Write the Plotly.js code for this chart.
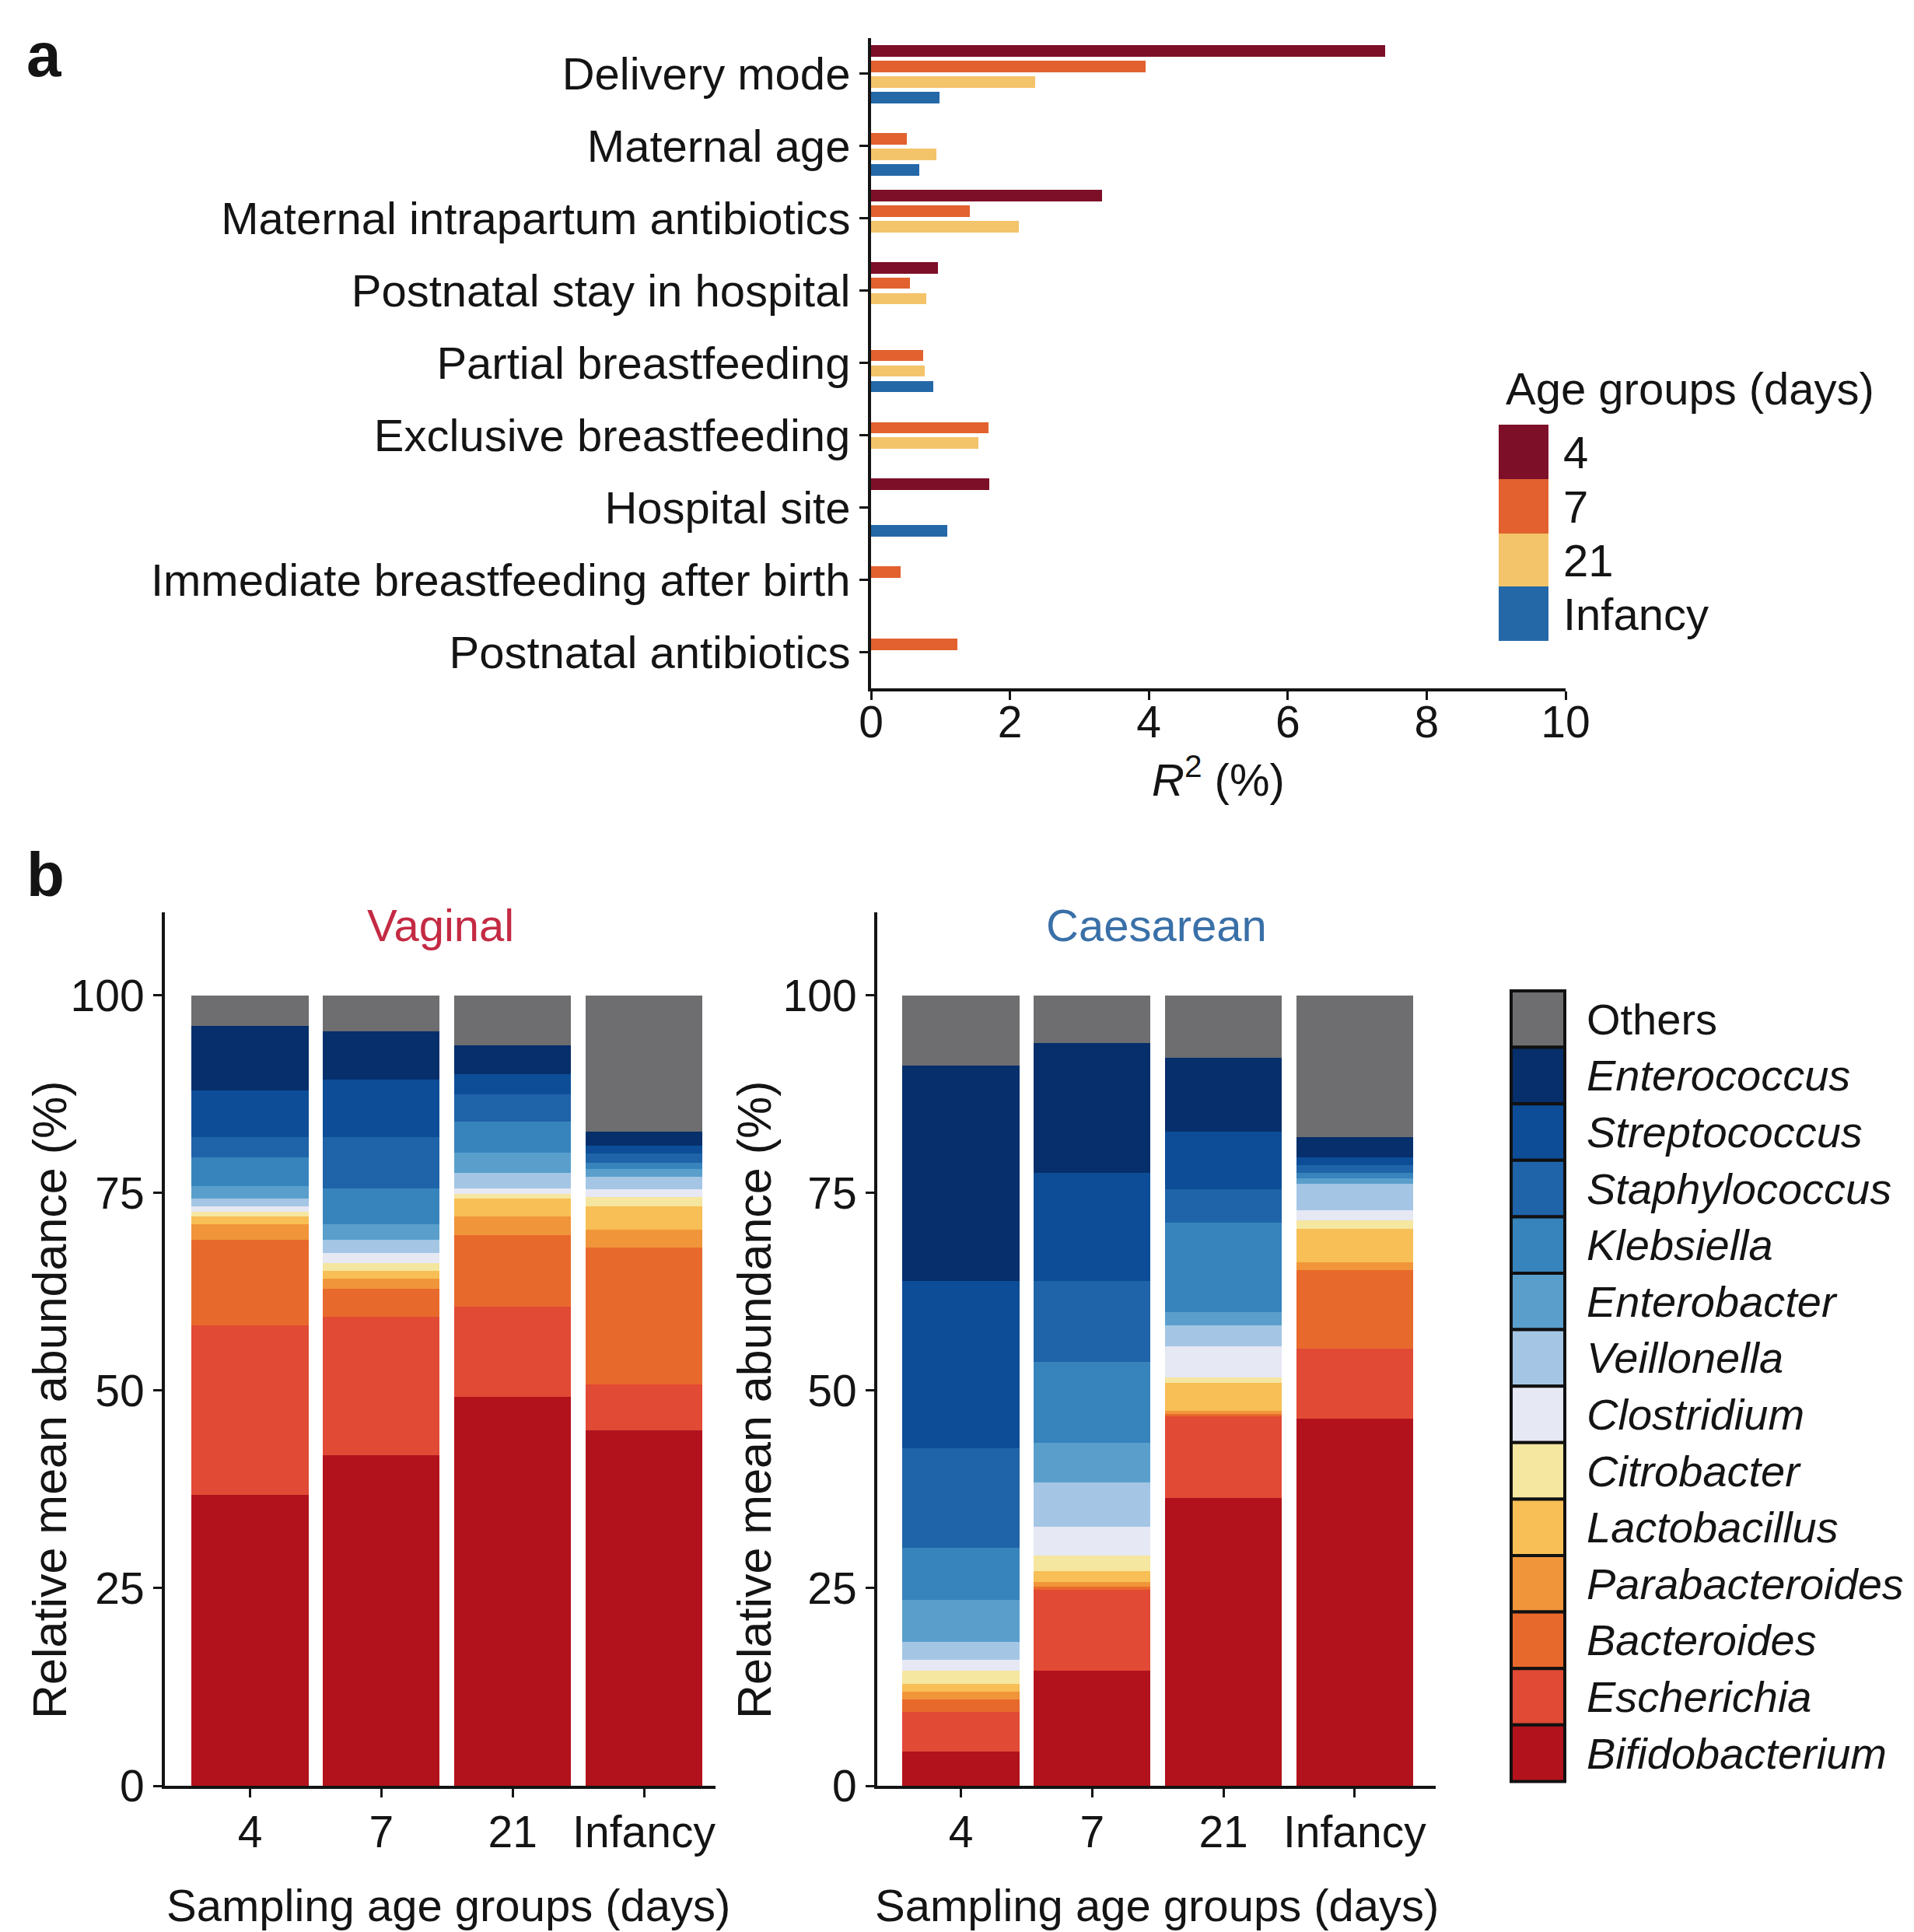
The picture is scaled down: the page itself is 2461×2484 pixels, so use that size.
<!DOCTYPE html>
<html>
<head>
<meta charset="utf-8">
<script src="https://cdn.plot.ly/plotly-3.0.1.min.js"></script>
<style>html,body{margin:0;padding:0;background:#fff;}#chart{width:2461px;height:2484px;}</style>
</head>
<body>
<div id="chart"></div>
<script>
// ---------- Panel a data ----------
const factors = ['Delivery mode','Maternal age','Maternal intrapartum antibiotics','Postnatal stay in hospital',
  'Partial breastfeeding','Exclusive breastfeeding','Hospital site','Immediate breastfeeding after birth','Postnatal antibiotics'];
const ageGroups = ['4','7','21','Infancy'];
const ageColors = ['#7d0f28','#e2612f','#f4c46a','#2468a8'];
const r2Day4    = [7.40, 0.00, 3.33, 0.96, 0.00, 0.00, 1.70, 0.00, 0.00];
const r2Day7    = [3.95, 0.52, 1.42, 0.56, 0.75, 1.69, 0.00, 0.43, 1.24];
const r2Day21   = [2.36, 0.94, 2.13, 0.79, 0.77, 1.54, 0.00, 0.00, 0.00];
const r2Infancy = [0.99, 0.69, 0.00, 0.00, 0.90, 0.00, 1.10, 0.00, 0.00];

// ---------- Panel b data ----------
const samplingGroups = ['4','7','21','Infancy'];
const genera = ['Bifidobacterium','Escherichia','Bacteroides','Parabacteroides','Lactobacillus','Citrobacter',
  'Clostridium','Veillonella','Enterobacter','Klebsiella','Staphylococcus','Streptococcus','Enterococcus','Others'];
const generaColors = ['#b2121c','#e14a35','#e8692c','#f0953a','#f7bf55','#f5e6a0',
  '#e6e8f4','#a4c6e4','#5a9fcc','#3784bd','#1f63a8','#0d4d98','#062f6b','#6e6e70'];
// relative mean abundance (%) for sampling groups 4, 7, 21, Infancy
const vagBifidobacterium = [36.8, 41.8, 49.2, 45.0];
const vagEscherichia     = [21.5, 17.5, 11.4,  5.8];
const vagBacteroides     = [10.8,  3.6,  9.1, 17.3];
const vagParabacteroides = [ 1.9,  1.3,  2.3,  2.3];
const vagLactobacillus   = [ 1.0,  0.9,  2.3,  2.9];
const vagCitrobacter     = [ 0.6,  1.0,  0.6,  1.2];
const vagClostridium     = [ 0.7,  1.3,  0.7,  1.0];
const vagVeillonella     = [ 1.0,  1.7,  1.9,  1.5];
const vagEnterobacter    = [ 1.6,  1.9,  2.6,  1.0];
const vagKlebsiella      = [ 3.6,  4.6,  3.9,  0.8];
const vagStaphylococcus  = [ 2.6,  6.5,  3.5,  1.2];
const vagStreptococcus   = [ 5.9,  7.2,  2.5,  1.0];
const vagEnterococcus    = [ 8.1,  6.1,  3.7,  1.8];
const vagOthers          = [ 3.9,  4.6,  6.3, 17.2];

const caeBifidobacterium = [ 4.3, 14.6, 36.4, 46.4];
const caeEscherichia     = [ 5.0, 10.2, 10.3,  8.9];
const caeBacteroides     = [ 1.6,  0.4,  0.3,  9.9];
const caeParabacteroides = [ 1.0,  0.6,  0.4,  1.0];
const caeLactobacillus   = [ 1.0,  1.4,  3.6,  4.3];
const caeCitrobacter     = [ 1.7,  1.9,  0.7,  1.0];
const caeClostridium     = [ 1.3,  3.7,  3.9,  1.3];
const caeVeillonella     = [ 2.3,  5.6,  2.7,  3.4];
const caeEnterobacter    = [ 5.3,  5.0,  1.6,  0.6];
const caeKlebsiella      = [ 6.6, 10.2, 11.3,  0.7];
const caeStaphylococcus  = [12.6, 10.3,  4.3,  1.0];
const caeStreptococcus   = [21.2, 13.6,  7.3,  1.0];
const caeEnterococcus    = [27.2, 16.5,  9.3,  2.6];
const caeOthers          = [ 8.9,  6.0,  7.9, 17.9];

const vaginalSeries = [vagBifidobacterium, vagEscherichia, vagBacteroides, vagParabacteroides, vagLactobacillus,
  vagCitrobacter, vagClostridium, vagVeillonella, vagEnterobacter, vagKlebsiella, vagStaphylococcus,
  vagStreptococcus, vagEnterococcus, vagOthers];
const caesareanSeries = [caeBifidobacterium, caeEscherichia, caeBacteroides, caeParabacteroides, caeLactobacillus,
  caeCitrobacter, caeClostridium, caeVeillonella, caeEnterobacter, caeKlebsiella, caeStaphylococcus,
  caeStreptococcus, caeEnterococcus, caeOthers];

// ---------- helpers ----------
const W = 2461, H = 2484;
const px = v => v / W;
const py = v => 1 - v / H;
const FONT = 'Liberation Sans, Arial, Helvetica, sans-serif';
const INK = '#141414';
const FS = 58;

const traces = [];
const r2Series = [r2Day4, r2Day7, r2Day21, r2Infancy];
const yNames = ['y', 'y2', 'y3', 'y4'];
r2Series.forEach((vals, i) => {
  traces.push({
    type: 'bar', orientation: 'h', x: vals, y: factors, xaxis: 'x', yaxis: yNames[i],
    marker: {color: ageColors[i], line: {width: 0}},
    width: 0.16, offset: -0.40 + i * 0.215, hoverinfo: 'skip', showlegend: false
  });
});
vaginalSeries.forEach((vals, i) => {
  traces.push({type: 'bar', x: samplingGroups, y: vals, xaxis: 'x2', yaxis: 'y5', name: genera[i],
    marker: {color: generaColors[i], line: {width: 0}}, hoverinfo: 'skip', showlegend: false});
});
caesareanSeries.forEach((vals, i) => {
  traces.push({type: 'bar', x: samplingGroups, y: vals, xaxis: 'x3', yaxis: 'y6', name: genera[i],
    marker: {color: generaColors[i], line: {width: 0}}, hoverinfo: 'skip', showlegend: false});
});

const axisCommon = {showgrid: false, zeroline: false, showline: true, linecolor: INK, linewidth: 4,
  ticks: 'outside', ticklen: 11, tickwidth: 3, tickcolor: INK, tickfont: {size: 57, color: INK, family: FONT}};

const yA = {domain: [py(885), py(48.5)], type: 'category', categoryorder: 'array', categoryarray: factors,
  range: [8.5, -0.5], anchor: 'x', fixedrange: true};

const layout = {
  width: W, height: H, margin: {l: 0, r: 0, t: 0, b: 0, pad: 0},
  paper_bgcolor: '#ffffff', plot_bgcolor: 'rgba(0,0,0,0)',
  font: {family: FONT, size: FS, color: INK},
  barmode: 'stack', bargap: 0.11, showlegend: false,
  xaxis: Object.assign({}, axisCommon, {domain: [px(1120), px(2013)], range: [0, 10], tickvals: [0,2,4,6,8,10],
    anchor: 'y', ticklabelstandoff: -20}),
  yaxis: Object.assign({}, axisCommon, yA, {tickfont: {size: FS, color: INK, family: FONT}}),
  yaxis2: Object.assign({}, yA, {overlaying: 'y', visible: false}),
  yaxis3: Object.assign({}, yA, {overlaying: 'y', visible: false}),
  yaxis4: Object.assign({}, yA, {overlaying: 'y', visible: false}),
  xaxis2: Object.assign({}, axisCommon, {domain: [px(212), px(920)], type: 'category', categoryorder: 'array',
    categoryarray: samplingGroups, range: [-0.649, 3.545], anchor: 'y5', ticklabelstandoff: -4}),
  yaxis5: Object.assign({}, axisCommon, {domain: [py(2296), py(1173)], range: [0, 110.5],
    tickvals: [0,25,50,75,100], anchor: 'x2'}),
  xaxis3: Object.assign({}, axisCommon, {domain: [px(1128), px(1846)], type: 'category', categoryorder: 'array',
    categoryarray: samplingGroups, range: [-0.637, 3.617], anchor: 'y6', ticklabelstandoff: -4}),
  yaxis6: Object.assign({}, axisCommon, {domain: [py(2296), py(1173)], range: [0, 110.5],
    tickvals: [0,25,50,75,100], anchor: 'x3'}),
  shapes: [],
  annotations: []
};

function ann(text, x, y, opts) {
  layout.annotations.push(Object.assign({text: text, x: px(x), y: py(y), xref: 'paper', yref: 'paper',
    showarrow: false, xanchor: 'center', yanchor: 'middle', font: {family: FONT, size: FS, color: INK}}, opts || {}));
}

// panel letters
ann('<b>a</b>', 32, 70, {xanchor: 'left', font: {family: FONT, size: 80, color: INK}});
ann('<b>b</b>', 32, 1124, {xanchor: 'left', font: {family: FONT, size: 80, color: INK}});

// panel a axis title
ann('<i>R</i><sup>2</sup> (%)', 1566, 998);

// panel a legend
ann('Age groups (days)', 1934, 499, {xanchor: 'left'});
const ageBlockTops = [546, 616, 686, 754];
const ageBlockH = 70;
ageGroups.forEach((g, i) => {
  layout.shapes.push({type: 'rect', xref: 'paper', yref: 'paper', x0: px(1927), x1: px(1991),
    y0: py(ageBlockTops[i]), y1: py(ageBlockTops[i] + ageBlockH), fillcolor: ageColors[i], line: {width: 0}});
  ann(g, 2008, ageBlockTops[i] + ageBlockH / 2, {xanchor: 'left'});
});

// panel b subplot titles
ann('Vaginal', 566, 1189, {font: {family: FONT, size: FS, color: '#c42a43'}});
ann('Caesarean', 1487, 1189, {font: {family: FONT, size: FS, color: '#3a70a8'}});

// panel b axis titles
ann('Relative mean abundance (%)', 64, 1800, {textangle: -90, font: {family: FONT, size: 61, color: INK}});
ann('Relative mean abundance (%)', 970, 1800, {textangle: -90, font: {family: FONT, size: 61, color: INK}});
ann('Sampling age groups (days)', 576, 2449);
ann('Sampling age groups (days)', 1487, 2449);

// panel b legend (top = Others, bottom = Bifidobacterium)
const legTop = 1274, legBlockH = 72.6;
for (let k = 0; k < genera.length; k++) {
  const gi = genera.length - 1 - k;
  const y0 = legTop + k * legBlockH;
  layout.shapes.push({type: 'rect', xref: 'paper', yref: 'paper', x0: px(1943), x1: px(2012),
    y0: py(y0), y1: py(y0 + legBlockH), fillcolor: generaColors[gi], line: {color: '#111', width: 4}});
  const label = genera[gi] === 'Others' ? 'Others' : '<i>' + genera[gi] + '</i>';
  ann(label, 2038, y0 + legBlockH / 2, {xanchor: 'left', font: {family: FONT, size: 56, color: INK}});
}

Plotly.newPlot('chart', traces, layout, {staticPlot: true, displayModeBar: false});
</script>
</body>
</html>
